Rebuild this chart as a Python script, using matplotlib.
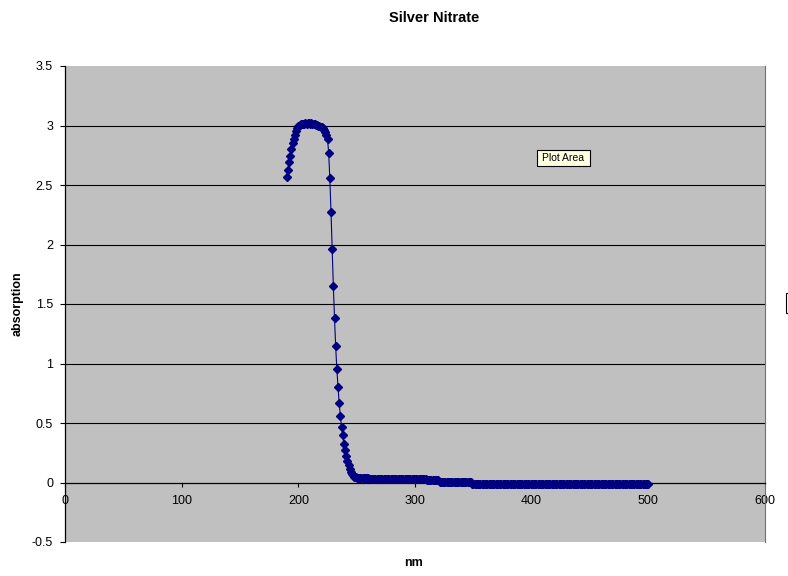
import numpy as np
import matplotlib
matplotlib.use("Agg")
import matplotlib.pyplot as plt
from matplotlib.patches import Rectangle

plt.rcParams["font.family"] = ["Liberation Sans", "DejaVu Sans"]

# wavelength grid, one reading per nm
nm = np.arange(190, 501)

# absorption, 190 nm .. 500 nm
absorption = [
    2.565, 2.63, 2.695, 2.745, 2.805, 2.85, 2.89, 2.92, 2.955, 2.98, 3.0,        # 190-200
    3.005, 3.01, 3.01, 3.015, 3.015, 3.02, 3.015, 3.02, 3.02, 3.015,            # 201-210
    3.02, 3.015, 3.01, 3.01, 3.005, 3.005, 3.0, 2.995, 2.99, 2.985,             # 211-220
    2.975, 2.96, 2.945, 2.92, 2.89, 2.77, 2.555, 2.275, 1.964, 1.653,           # 221-230
    1.384, 1.143, 0.955, 0.804, 0.672, 0.56, 0.465, 0.395, 0.325, 0.27,         # 231-240
    0.225, 0.18, 0.145, 0.115, 0.09, 0.07, 0.06, 0.05, 0.045, 0.042,            # 241-250
    0.04, 0.04, 0.038, 0.038, 0.037, 0.036, 0.035, 0.035, 0.034, 0.034,         # 251-260
    0.033, 0.033, 0.033, 0.033, 0.033, 0.033, 0.033, 0.033, 0.033, 0.033,       # 261-270
    0.033, 0.033, 0.033, 0.033, 0.032, 0.032, 0.032, 0.032, 0.032, 0.032,       # 271-280
    0.032, 0.032, 0.032, 0.032, 0.031, 0.031, 0.031, 0.031, 0.031, 0.031,       # 281-290
    0.031, 0.031, 0.031, 0.031, 0.03, 0.03, 0.03, 0.03, 0.03, 0.03,             # 291-300
    0.03, 0.03, 0.03, 0.03, 0.029, 0.029, 0.028, 0.027, 0.026, 0.025,           # 301-310
    0.018, 0.018, 0.018, 0.018, 0.018, 0.018, 0.018, 0.018, 0.018, 0.018,       # 311-320
    0.006, 0.006, 0.006, 0.006, 0.006, 0.006, 0.006, 0.006, 0.006, 0.006,       # 321-330
    0.005, 0.005, 0.005, 0.005, 0.005, 0.005, 0.005, 0.005, 0.005, 0.005,       # 331-340
    0.004, 0.004, 0.004, 0.004, 0.004, 0.004, 0.004, 0.004, -0.01, -0.01,       # 341-350
    -0.01, -0.01, -0.01, -0.01, -0.01, -0.01, -0.01, -0.01, -0.01, -0.01,       # 351-360
    -0.01, -0.01, -0.01, -0.01, -0.01, -0.01, -0.01, -0.01, -0.01, -0.01,       # 361-370
    -0.01, -0.01, -0.01, -0.01, -0.01, -0.01, -0.01, -0.01, -0.01, -0.01,       # 371-380
    -0.01, -0.01, -0.01, -0.01, -0.01, -0.01, -0.01, -0.01, -0.01, -0.01,       # 381-390
    -0.01, -0.01, -0.01, -0.01, -0.01, -0.01, -0.01, -0.01, -0.01, -0.01,       # 391-400
    -0.01, -0.01, -0.01, -0.01, -0.01, -0.01, -0.01, -0.01, -0.01, -0.01,       # 401-410
    -0.01, -0.01, -0.01, -0.01, -0.01, -0.01, -0.01, -0.01, -0.01, -0.01,       # 411-420
    -0.01, -0.01, -0.01, -0.01, -0.01, -0.01, -0.01, -0.01, -0.01, -0.01,       # 421-430
    -0.01, -0.01, -0.01, -0.01, -0.01, -0.01, -0.01, -0.01, -0.01, -0.01,       # 431-440
    -0.01, -0.01, -0.01, -0.01, -0.01, -0.01, -0.01, -0.01, -0.01, -0.01,       # 441-450
    -0.01, -0.01, -0.01, -0.01, -0.01, -0.01, -0.01, -0.01, -0.01, -0.01,       # 451-460
    -0.01, -0.01, -0.01, -0.01, -0.01, -0.01, -0.01, -0.01, -0.01, -0.01,       # 461-470
    -0.01, -0.01, -0.01, -0.01, -0.01, -0.01, -0.01, -0.01, -0.01, -0.01,       # 471-480
    -0.01, -0.01, -0.01, -0.01, -0.01, -0.01, -0.01, -0.01, -0.01, -0.01,       # 481-490
    -0.01, -0.01, -0.01, -0.01, -0.01, -0.01, -0.01, -0.01, -0.01, -0.01,       # 491-500
]

x_ticks = [0, 100, 200, 300, 400, 500, 600]
y_ticks = [-0.5, 0, 0.5, 1, 1.5, 2, 2.5, 3, 3.5]
y_labels = ["-0.5", "0", "0.5", "1", "1.5", "2", "2.5", "3", "3.5"]

W, H = 788, 576
fig = plt.figure(figsize=(W / 100, H / 100), dpi=100)
# plot area in pixels: x 65..765, y 66..542
ax = fig.add_axes([65 / W, (H - 542) / H, 700 / W, 476 / H])
ax.set_facecolor("#c0c0c0")

ax.set_xlim(0, 600)
ax.set_ylim(-0.5, 3.5)
ax.set_xticks(x_ticks)
ax.set_xticklabels([str(v) for v in x_ticks])
ax.set_yticks(y_ticks)
ax.set_yticklabels(y_labels)

# gridlines only between the axis limits, zero line is the x axis
for v in y_ticks:
    if 0 < v < 3.5:
        ax.axhline(v, color="black", lw=0.8, zorder=1)

ax.spines["top"].set_visible(False)
ax.spines["right"].set_color("#707070")
ax.spines["right"].set_linestyle((0, (1, 1)))
ax.spines["right"].set_linewidth(0.8)
ax.spines["left"].set_linewidth(0.9)
ax.spines["bottom"].set_position(("data", 0))
ax.spines["bottom"].set_linewidth(0.9)

ax.tick_params(axis="y", direction="out", length=3.6, width=0.8, pad=5, labelsize=9)
ax.tick_params(axis="x", direction="out", length=3, width=0.8, pad=6, labelsize=9)

ax.plot(nm, absorption, color="#000080", lw=0.8, marker="D", ms=3.6,
        mfc="#000080", mec="#000080", zorder=3)

fig.text(434 / W, 1 - 18 / H, "Silver Nitrate", ha="center", va="center",
         fontsize=10.5, fontweight="bold")
fig.text(18 / W, 1 - 304 / H, "absorption", ha="center", va="center",
         rotation=90, fontsize=9, fontweight="bold")
fig.text(413 / W, 1 - 563 / H, "nm", ha="center", va="center",
         fontsize=9, fontweight="bold")

# tooltip boxes left from the Excel screenshot
fig.patches.append(Rectangle((537 / W, 1 - 166 / H), 53 / W, 16 / H,
                             transform=fig.transFigure, facecolor="#ffffe1",
                             edgecolor="black", lw=0.8, zorder=5))
fig.text(563 / W, 1 - 158 / H, "Plot Area", ha="center", va="center",
         fontsize=7.5, zorder=6)
fig.patches.append(Rectangle((786 / W, 1 - 313 / H), 10 / W, 20 / H,
                             transform=fig.transFigure, facecolor="white",
                             edgecolor="black", lw=0.8, zorder=5))

fig.savefig("out.png", dpi=100)
